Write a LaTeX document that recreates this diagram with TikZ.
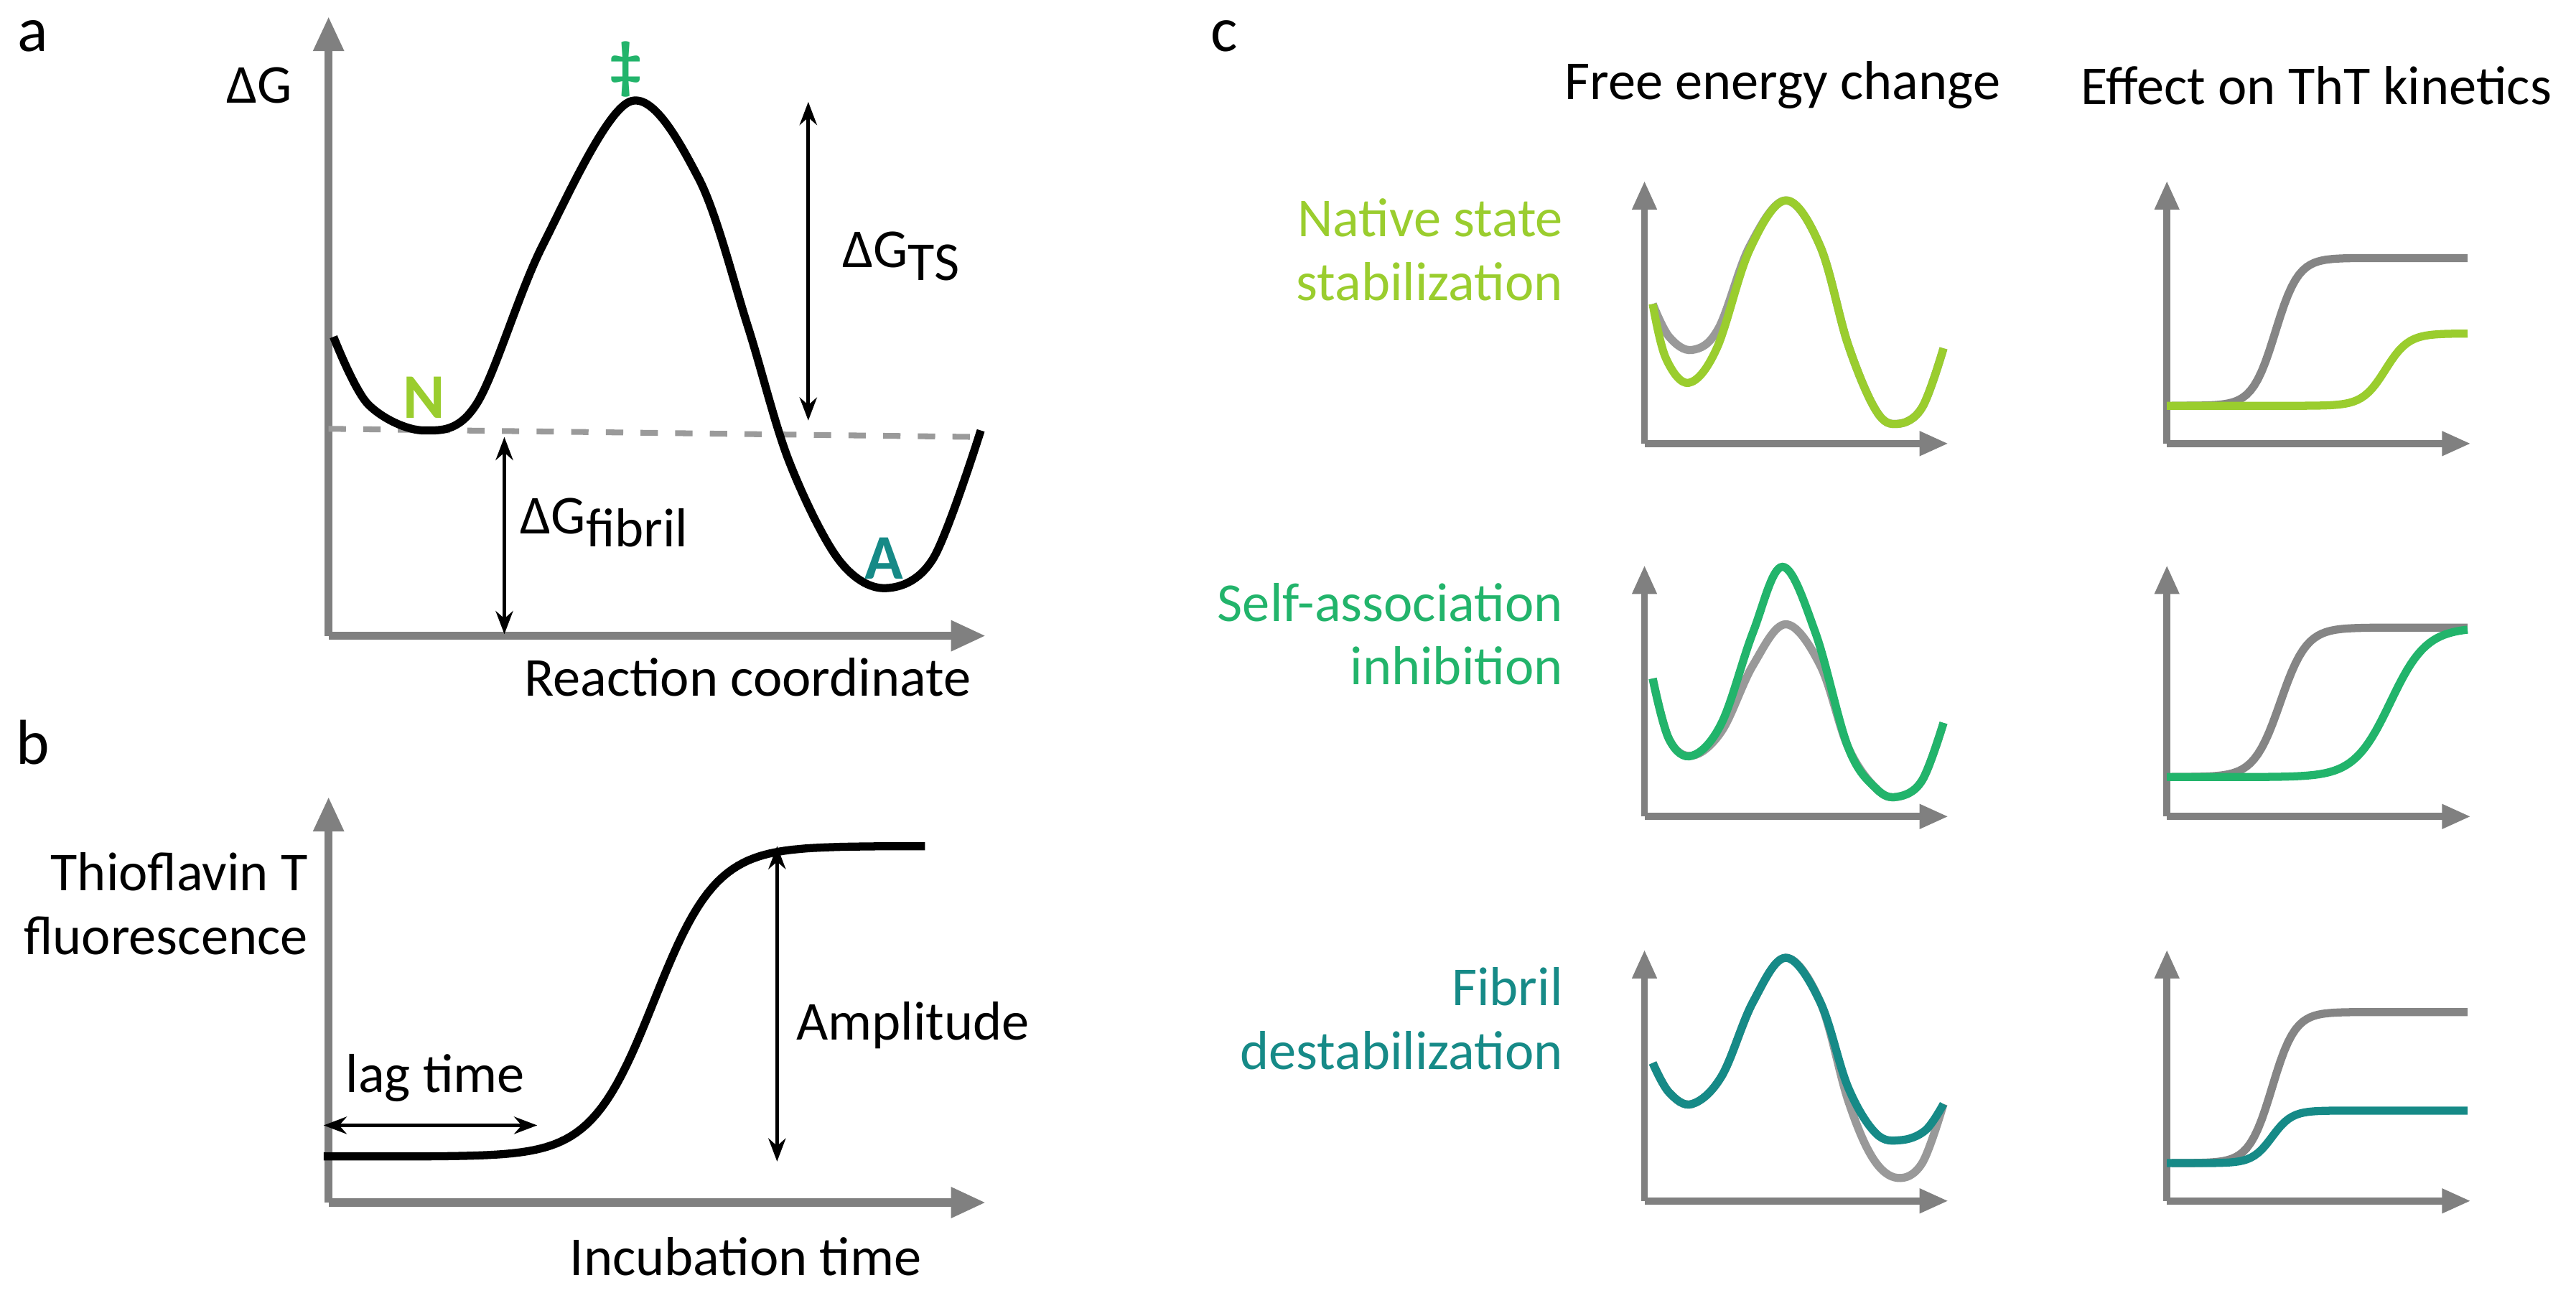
\documentclass[tikz,border=0pt]{standalone}
\usepackage{fontspec}
\setmainfont{Carlito}
\usetikzlibrary{arrows.meta}
\definecolor{axg}{HTML}{808080}
\definecolor{cA}{HTML}{9ACD2E}
\definecolor{cB}{HTML}{22B46B}
\definecolor{cC}{HTML}{168A87}
\definecolor{cur}{HTML}{999999}
\definecolor{curk}{HTML}{858585}
\tikzset{declare function={sig(\t)=1/(1+exp(-min(max(\t,-8),8)));}}
\begin{document}
\begin{tikzpicture}[x=0.01cm,y=-0.01cm,
  font=\fontsize{9.5}{11}\selectfont,
  ax/.style={draw=axg,line width=1.4pt,-{Triangle[length=6pt,width=5pt]}},
  sax/.style={draw=axg,line width=1.2pt,-{Triangle[length=5pt,width=4pt]}},
  crv/.style={line width=1.4pt},
  dim/.style={line width=0.6pt,{Stealth[length=4pt]}-{Stealth[length=4pt]}},
  lbl/.style={inner sep=0pt}]
\useasboundingbox (0,0) rectangle (1568,787);
% ---------- panel a
\node[lbl] (la) at (20,22) {\fontsize{11}{13}\selectfont a};
\coordinate (ao) at (200,387);
\coordinate (ay) at (200,10);
\coordinate (ax) at (600,387);
\draw[ax] (ao) -- (ay);
\draw[ax] (ao) -- (ax);
\node[lbl] (dg) at (158,52) {ΔG};
\draw[axg!80,dashed,line width=1pt] (200,261) -- (597,266);
\draw[crv,smooth,tension=0.55] plot coordinates {(203,205)(224,246)(258,262)(290,246)(330,150)(383,62)(425,108)(455,198)(480,280)(510,340)(538,358)(568,340)(597,262)};
\node[lbl,text=cB,font=\bfseries\fontsize{11}{13}\selectfont] (ts) at (381,42) {‡};
\node[lbl,text=cA,font=\bfseries\fontsize{11}{13}\selectfont] (N) at (258,242) {N};
\node[lbl,text=cC,font=\bfseries\fontsize{11}{13}\selectfont] (A) at (538,340) {A};
\coordinate (t1) at (492,62); \coordinate (t2) at (492,256);
\draw[dim] (t1) -- (t2);
\node[lbl,anchor=west] (dgts) at (512,156) {ΔG\raisebox{-0.5ex}{TS}};
\coordinate (f1) at (307,266); \coordinate (f2) at (307,386);
\draw[dim] (f1) -- (f2);
\node[lbl,anchor=west] (dgf) at (316,318) {ΔG\raisebox{-0.5ex}{fibril}};
\node[lbl] (rc) at (455,412) {Reaction coordinate};
% ---------- panel b
\node[lbl] (lb) at (20,452) {\fontsize{11}{13}\selectfont b};
\coordinate (bo) at (200,732);
\draw[ax] (bo) -- (200,485);
\draw[ax] (bo) -- (600,732);
\node[lbl,align=right,anchor=east] (tht) at (188,550) {Thioflavin T\\fluorescence};
\draw[crv] plot[domain=197:563,samples=120] (\x,{704-189*sig((\x-398)/19)});
\coordinate (g1) at (197,685); \coordinate (g2) at (327,685);
\draw[dim] (g1) -- (g2);
\node[lbl] (lag) at (265,656) {lag time};
\coordinate (m1) at (473,515); \coordinate (m2) at (473,707);
\draw[dim] (m1) -- (m2);
\node[lbl,anchor=west] (amp) at (484,624) {Amplitude};
\node[lbl] (inc) at (454,765) {Incubation time};
% ---------- panel c
\node[lbl] (lc) at (745,22) {\fontsize{11}{13}\selectfont c};
\node[lbl] (h1) at (1085,52) {Free energy change};
\node[lbl] (h2) at (1410,52) {Effect on ThT kinetics};
\node[lbl,align=right,anchor=east,text=cA] (r1) at (952,152) {Native state\\stabilization};
\node[lbl,align=right,anchor=east,text=cB] (r2) at (952,386) {Self-association\\inhibition};
\node[lbl,align=right,anchor=east,text=cC] (r3) at (952,620) {Fibril\\destabilization};
\foreach \b/\t in {270/110,497/344,731/578}{
  \draw[sax] (1001,\b) -- (1001,\t);
  \draw[sax] (1001,\b) -- (1186,\b);
  \draw[sax] (1319,\b) -- (1319,\t);
  \draw[sax] (1319,\b) -- (1504,\b);
}
% row 1
\draw[crv,cur,smooth,tension=0.6] plot coordinates {(1006,185)(1016,205)(1030,213)(1046,200)(1065,150)(1087,122)(1108,150)(1125,210)(1142,250)(1155,258)(1170,248)(1183,212)};
\draw[crv,cA,smooth,tension=0.6] plot coordinates {(1006,185)(1014,218)(1028,233)(1045,212)(1065,152)(1087,122)(1108,150)(1125,210)(1142,250)(1155,258)(1170,248)(1183,212)};
\draw[crv,curk] plot[domain=1322:1502,samples=80] (\x,{247-90*sig((\x-1385)/7)});
\draw[crv,cA] plot[domain=1319:1502,samples=80] (\x,{247-44*sig((\x-1452)/7)});
% row 2
\draw[crv,cur,smooth,tension=0.6] plot coordinates {(1006,413)(1016,450)(1030,460)(1048,445)(1067,405)(1087,380)(1108,405)(1125,455)(1142,480)(1155,485)(1170,475)(1183,440)};
\draw[crv,cB,smooth,tension=0.6] plot coordinates {(1006,413)(1016,450)(1030,460)(1048,440)(1067,385)(1085,345)(1105,385)(1125,455)(1142,480)(1155,485)(1170,475)(1183,440)};
\draw[crv,curk] plot[domain=1322:1502,samples=80] (\x,{473-91*sig((\x-1388)/8)});
\draw[crv,cB] plot[domain=1319:1502,samples=80] (\x,{473-91*sig((\x-1455)/11)});
% row 3
\draw[crv,cur,smooth,tension=0.6] plot coordinates {(1006,647)(1016,665)(1030,672)(1048,655)(1067,610)(1087,583)(1108,610)(1125,670)(1140,705)(1155,717)(1170,708)(1183,672)};
\draw[crv,cC,smooth,tension=0.6] plot coordinates {(1006,647)(1016,665)(1030,672)(1048,655)(1067,610)(1087,583)(1108,610)(1125,662)(1142,690)(1157,694)(1172,688)(1183,672)};
\draw[crv,curk] plot[domain=1322:1502,samples=80] (\x,{708-92*sig((\x-1383)/7)});
\draw[crv,cC] plot[domain=1319:1502,samples=80] (\x,{708-32*sig((\x-1383)/6)});
\end{tikzpicture}
\end{document}
